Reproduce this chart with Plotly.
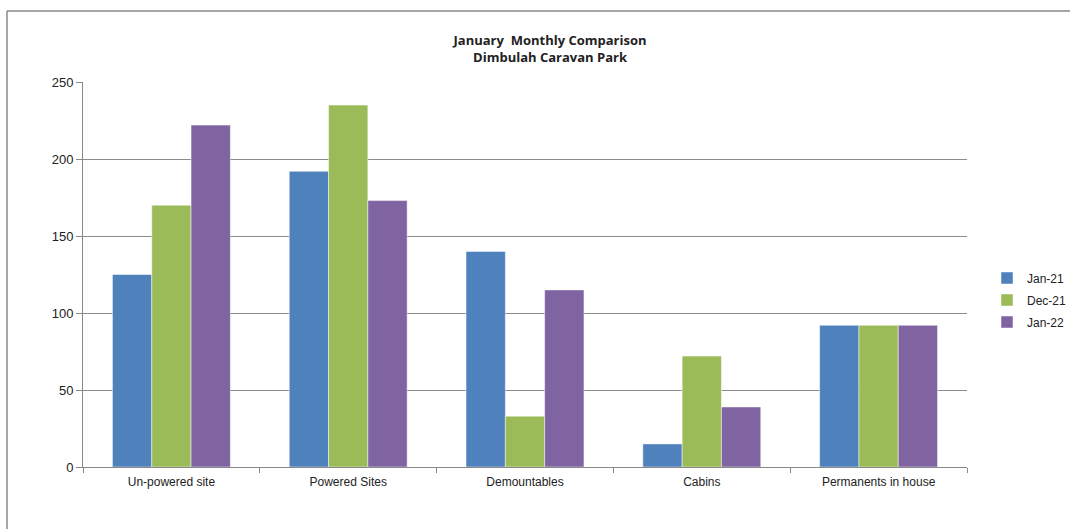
import plotly.graph_objects as go

categories = ["Un-powered site", "Powered Sites", "Demountables", "Cabins", "Permanents in house"]
jan21 = [125, 192, 140, 15, 92]
dec21 = [170, 235, 33, 72, 92]
jan22 = [222, 173, 115, 39, 92]
series_names = ["Jan-21", "Dec-21", "Jan-22"]
colors = ["#4F81BD", "#9BBB59", "#8064A2"]
y_ticks = [0, 50, 100, 150, 200, 250]

W, H = 1070, 529
ML, MR, MT, MB = 83, 103, 82, 62
pw = W - ML - MR
ph = H - MT - MB

fig = go.Figure()
for name, vals, col in zip(series_names, [jan21, dec21, jan22], colors):
    fig.add_trace(go.Bar(
        x=categories, y=vals, name=name, legendgroup=name,
        marker=dict(color=col, line=dict(color="rgba(255,255,255,0.6)", width=0.8)),
    ))

def px_x(p):
    return (p - ML) / pw

def px_y(p):
    return (H - MB - p) / ph

fig.update_layout(
    width=W, height=H,
    margin=dict(l=ML, r=MR, t=MT, b=MB, autoexpand=False),
    paper_bgcolor="white", plot_bgcolor="white",
    barmode="group", bargap=0.333, bargroupgap=0,
    font=dict(family="Liberation Sans, Arial", size=12, color="#222"),
    title=dict(
        text="<b>January  Monthly Comparison<br>Dimbulah Caravan Park</b>",
        x=550 / W, xanchor="center", y=1 - 45 / H, yanchor="middle",
        font=dict(family="Open Sans", size=13, color="#222"),
    ),
    xaxis=dict(
        showline=True, linecolor="#888", linewidth=1,
        ticks="outside", tickson="boundaries", ticklen=5, tickcolor="#888",
        tickfont=dict(size=12, color="#222"), ticklabelstandoff=4,
    ),
    yaxis=dict(
        range=[0, 250], tickvals=y_ticks,
        showgrid=True, gridcolor="#8c8c8c", gridwidth=1,
        showline=True, linecolor="#888", linewidth=1,
        ticks="outside", ticklen=6, tickcolor="#888",
        tickfont=dict(size=13, color="#222"),
        zeroline=False,
    ),
    legend=dict(
        x=px_x(987), y=px_y(300), xanchor="left", yanchor="middle",
        font=dict(size=12, color="#222"),
        itemwidth=30, tracegroupgap=3,
    ),
    showlegend=True,
)

# chart frame (top and left edges visible)
fig.add_shape(type="line", xref="paper", yref="paper",
              x0=px_x(7), x1=px_x(1080), y0=px_y(11), y1=px_y(11),
              line=dict(color="#8a8a8a", width=1.5))
fig.add_shape(type="line", xref="paper", yref="paper",
              x0=px_x(7), x1=px_x(7), y0=px_y(11), y1=px_y(540),
              line=dict(color="#8a8a8a", width=1.5))

fig.write_html("out.html", config={"displayModeBar": False},
               post_script="document.body.style.margin='0';")
